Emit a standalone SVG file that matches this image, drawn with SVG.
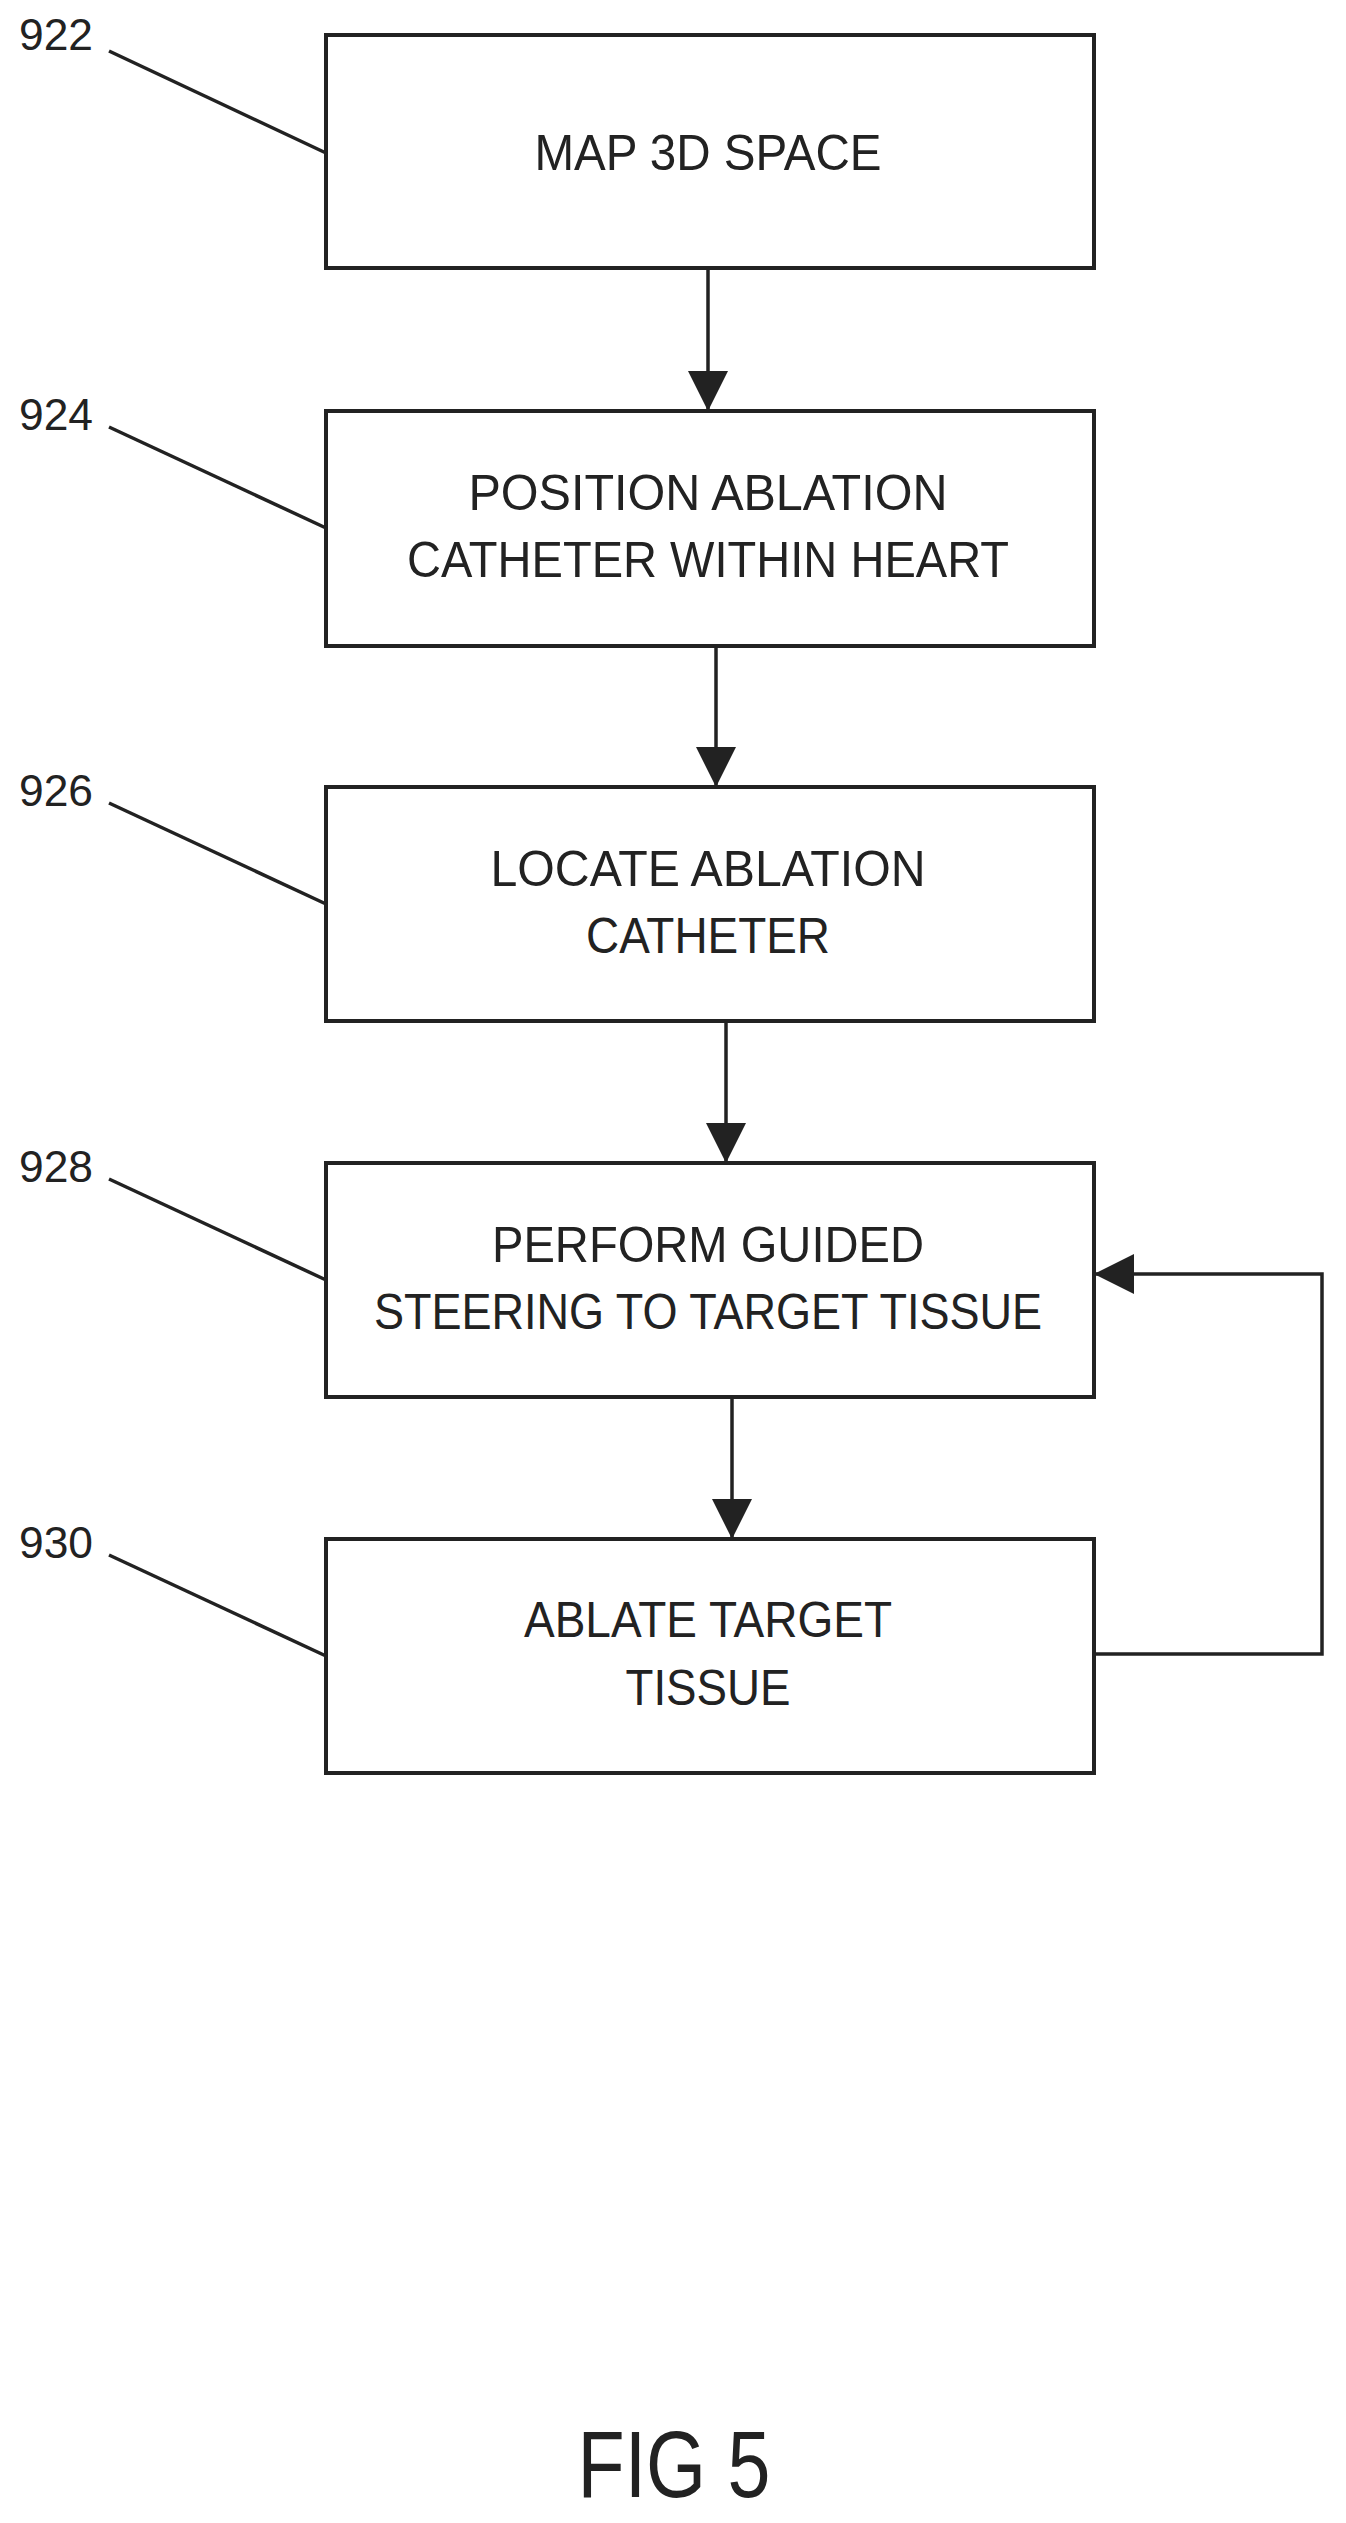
<svg xmlns="http://www.w3.org/2000/svg" width="1346" height="2523" viewBox="0 0 1346 2523">
<style>
.box{fill:#fff;stroke:#222;stroke-width:4}
.ln{fill:none;stroke:#222;stroke-width:3.5}
.t{font-family:"Liberation Sans Narrow","Liberation Sans",sans-serif;font-size:50px;fill:#222;text-anchor:middle}
.r{font-family:"Liberation Sans Narrow","Liberation Sans",sans-serif;font-size:44px;fill:#222}
</style>
<defs><marker id="ah" markerWidth="10" markerHeight="10" refX="9" refY="5" orient="auto" markerUnits="userSpaceOnUse" viewBox="0 0 10 10"><path d="M0,0 L10,5 L0,10 z" fill="#222"/></marker>
<marker id="a" viewBox="0 0 10 10" refX="10" refY="5" markerWidth="40" markerHeight="40" markerUnits="userSpaceOnUse" orient="auto"><path d="M0,0 L10,5 L0,10 z" fill="#222"/></marker></defs>
<g id="connectors">
<line class="ln" x1="708" y1="268" x2="708" y2="411" marker-end="url(#a)"/>
<line class="ln" x1="716" y1="646" x2="716" y2="787" marker-end="url(#a)"/>
<line class="ln" x1="726" y1="1021" x2="726" y2="1163" marker-end="url(#a)"/>
<line class="ln" x1="732" y1="1397" x2="732" y2="1539" marker-end="url(#a)"/>
<polyline class="ln" points="1094,1654 1322,1654 1322,1274 1094,1274" marker-end="url(#a)"/>
<line class="ln" x1="109" y1="51" x2="326" y2="153"/>
<line class="ln" x1="109" y1="427" x2="326" y2="528"/>
<line class="ln" x1="109" y1="803" x2="326" y2="904"/>
<line class="ln" x1="109" y1="1179" x2="326" y2="1280"/>
<line class="ln" x1="109" y1="1555" x2="326" y2="1656"/>
</g>
<g id="n922"><rect class="box" x="326" y="35" width="768" height="233"/><text class="t" x="708" y="170" textLength="347" lengthAdjust="spacingAndGlyphs">MAP 3D SPACE</text><text class="r" x="19" y="50" textLength="74" lengthAdjust="spacingAndGlyphs">922</text></g>
<g id="n924"><rect class="box" x="326" y="411" width="768" height="235"/><text class="t" x="708" y="510" textLength="479" lengthAdjust="spacingAndGlyphs">POSITION ABLATION</text><text class="t" x="708" y="577" textLength="602" lengthAdjust="spacingAndGlyphs">CATHETER WITHIN HEART</text><text class="r" x="19" y="430" textLength="74" lengthAdjust="spacingAndGlyphs">924</text></g>
<g id="n926"><rect class="box" x="326" y="787" width="768" height="234"/><text class="t" x="708" y="886" textLength="435" lengthAdjust="spacingAndGlyphs">LOCATE ABLATION</text><text class="t" x="708" y="953" textLength="244" lengthAdjust="spacingAndGlyphs">CATHETER</text><text class="r" x="19" y="806" textLength="74" lengthAdjust="spacingAndGlyphs">926</text></g>
<g id="n928"><rect class="box" x="326" y="1163" width="768" height="234"/><text class="t" x="708" y="1262" textLength="432" lengthAdjust="spacingAndGlyphs">PERFORM GUIDED</text><text class="t" x="708" y="1329" textLength="668" lengthAdjust="spacingAndGlyphs">STEERING TO TARGET TISSUE</text><text class="r" x="19" y="1182" textLength="74" lengthAdjust="spacingAndGlyphs">928</text></g>
<g id="n930"><rect class="box" x="326" y="1539" width="768" height="234"/><text class="t" x="708" y="1637" textLength="368" lengthAdjust="spacingAndGlyphs">ABLATE TARGET</text><text class="t" x="708" y="1705" textLength="165" lengthAdjust="spacingAndGlyphs">TISSUE</text><text class="r" x="19" y="1558" textLength="74" lengthAdjust="spacingAndGlyphs">930</text></g>
<text class="t" x="674" y="2497" style="font-size:95px" textLength="193" lengthAdjust="spacingAndGlyphs">FIG 5</text>
</svg>
